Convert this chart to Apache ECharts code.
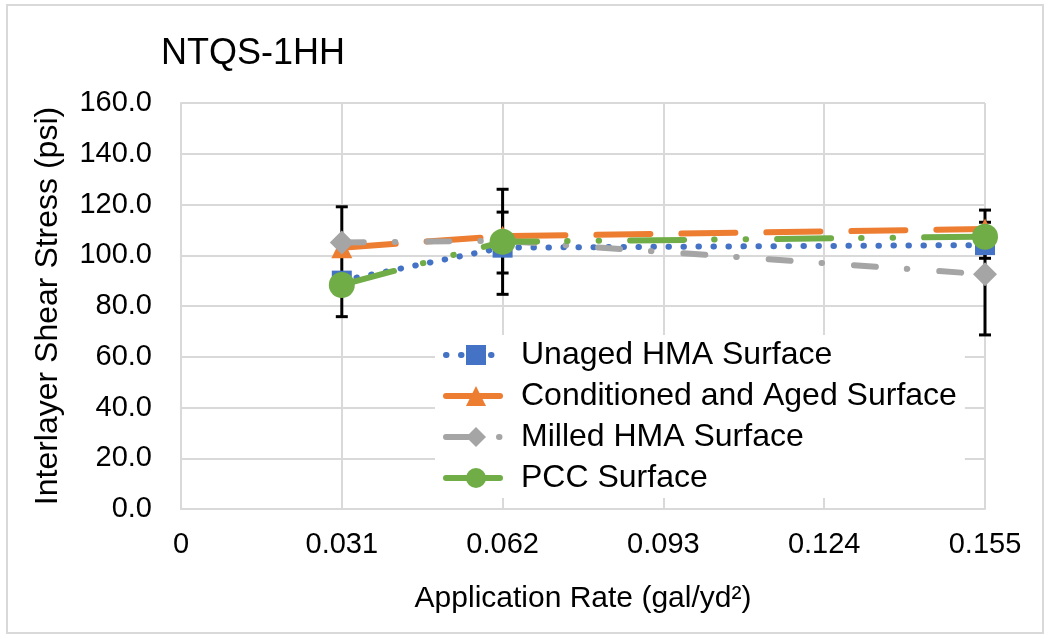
<!DOCTYPE html>
<html>
<head>
<meta charset="utf-8">
<script src="https://cdn.jsdelivr.net/npm/echarts@6/dist/echarts.min.js"></script>
<style>
html,body{margin:0;padding:0;background:#fff;}
#c{width:1050px;height:639px;}
</style>
</head>
<body>
<div id="c"></div>
<script>
// ---- data ----
var xValues = [0.031, 0.062, 0.155];
var seriesNames = ['Unaged HMA Surface', 'Conditioned and Aged Surface', 'Milled HMA Surface', 'PCC Surface'];
var unaged = [90.0, 103.0, 104.0];
var conditioned = [103.0, 107.5, 110.3];
var milled = [105.0, 105.7, 92.5];
var pcc = [88.3, 105.3, 107.3];
var errorX = [0.031, 0.062, 0.062, 0.155, 0.155];
var errorLow = [75.8, 84.6, 93.0, 68.6, 98.8];
var errorHigh = [119.1, 126.0, 117.0, 117.8, 113.0];
var xTicks = [0, 0.031, 0.062, 0.093, 0.124, 0.155];
var xTickLabels = ['0', '0.031', '0.062', '0.093', '0.124', '0.155'];
var yTicks = [0, 20, 40, 60, 80, 100, 120, 140, 160];

function pairs(vals) { return xValues.map(function (x, i) { return [x, vals[i]]; }); }
var FONT = '"Liberation Sans", Arial, sans-serif';

var chart = echarts.init(document.getElementById('c'), null, {renderer: 'canvas'});

var errData = errorX.map(function (x, i) { return [x, errorLow[i], errorHigh[i]]; });

var styles = [
  {color: '#4472C4', width: 6, type: [0.5, 14.5], symbol: 'rect', size: 20},
  {color: '#ED7D31', width: 6, type: [54, 31], symbol: 'triangle', size: 21},
  {color: '#A5A5A5', width: 6, type: [22, 31, 0.5, 32], symbol: 'diamond', size: 24},
  {color: '#70AD47', width: 6, type: [54, 30, 0.5, 31, 0.5, 31], symbol: 'circle', size: 26}
];
var seriesData = [unaged, conditioned, milled, pcc];

var lineSeries = seriesNames.map(function (n, i) {
  var s = styles[i];
  return {
    type: 'line', name: n, z: 2 + i, data: pairs(seriesData[i]),
    symbol: s.symbol, symbolSize: s.size,
    itemStyle: {color: s.color},
    lineStyle: {color: s.color, width: s.width, type: s.type, cap: 'round'}
  };
});

var option = {
  animation: false,
  backgroundColor: '#fff',
  textStyle: {fontFamily: FONT},
  title: {
    text: 'NTQS-1HH', left: 156, top: 31,
    textStyle: {fontFamily: FONT, fontSize: 36, fontWeight: 'normal', color: '#000'}
  },
  graphic: [{
    type: 'rect', shape: {x: 7, y: 5, width: 1036, height: 628},
    style: {fill: 'none', stroke: '#d9d9d9', lineWidth: 2}, silent: true, z: -1
  }],
  grid: {left: 181, right: 65, top: 103, bottom: 130, containLabel: false},
  legend: {
    orient: 'vertical', left: 435, top: 335,
    backgroundColor: '#fff', padding: [4, 8, 4, 8],
    itemWidth: 60, itemHeight: 25, itemGap: 9,
    lineStyle: {width: 'inherit', type: 'inherit', cap: 'round'},
    data: seriesNames.map(function (n, i) {
      return {name: n, lineStyle: {width: styles[i].width, type: styles[i].type, cap: 'round', color: styles[i].color}};
    }),
    textStyle: {fontFamily: FONT, fontSize: 32, color: '#000', padding: [0, 0, 0, 10]}
  },
  xAxis: {
    type: 'value', min: 0, max: 0.155, interval: 0.031,
    name: 'Application Rate (gal/yd²)', nameLocation: 'middle', nameGap: 75,
    nameTextStyle: {fontFamily: FONT, fontSize: 30, color: '#000'},
    axisLine: {show: true, lineStyle: {color: '#d9d9d9', width: 2}},
    axisTick: {show: false},
    axisLabel: {
      fontFamily: FONT, fontSize: 29, color: '#000', margin: 21,
      formatter: function (v) {
        for (var i = 0; i < xTicks.length; i++) if (Math.abs(v - xTicks[i]) < 1e-6) return xTickLabels[i];
        return '';
      }
    },
    splitLine: {show: true, lineStyle: {color: '#d9d9d9', width: 2}}
  },
  yAxis: {
    type: 'value', min: yTicks[0], max: yTicks[yTicks.length - 1], interval: 20,
    name: 'Interlayer Shear Stress (psi)', nameLocation: 'middle', nameGap: 117, nameRotate: 90,
    nameTextStyle: {fontFamily: FONT, fontSize: 32, color: '#000'},
    axisLine: {show: true, lineStyle: {color: '#d9d9d9', width: 2}},
    axisTick: {show: false},
    axisLabel: {fontFamily: FONT, fontSize: 29, color: '#000', margin: 29,
      formatter: function (v) { return v.toFixed(1); }},
    splitLine: {show: true, lineStyle: {color: '#d9d9d9', width: 2}}
  },
  series: [
    {
      type: 'custom', name: 'err', z: 1, silent: true,
      renderItem: function (params, api) {
        var x = api.value(0);
        var lo = api.coord([x, api.value(1)]);
        var hi = api.coord([x, api.value(2)]);
        var hw = 6;
        var st = {stroke: '#000', lineWidth: 3};
        return {type: 'group', children: [
          {type: 'line', shape: {x1: lo[0], y1: lo[1], x2: hi[0], y2: hi[1]}, style: st},
          {type: 'line', shape: {x1: lo[0] - hw, y1: lo[1], x2: lo[0] + hw, y2: lo[1]}, style: st},
          {type: 'line', shape: {x1: hi[0] - hw, y1: hi[1], x2: hi[0] + hw, y2: hi[1]}, style: st}
        ]};
      },
      data: errData
    }
  ].concat(lineSeries)
};
chart.setOption(option);
</script>
</body>
</html>
